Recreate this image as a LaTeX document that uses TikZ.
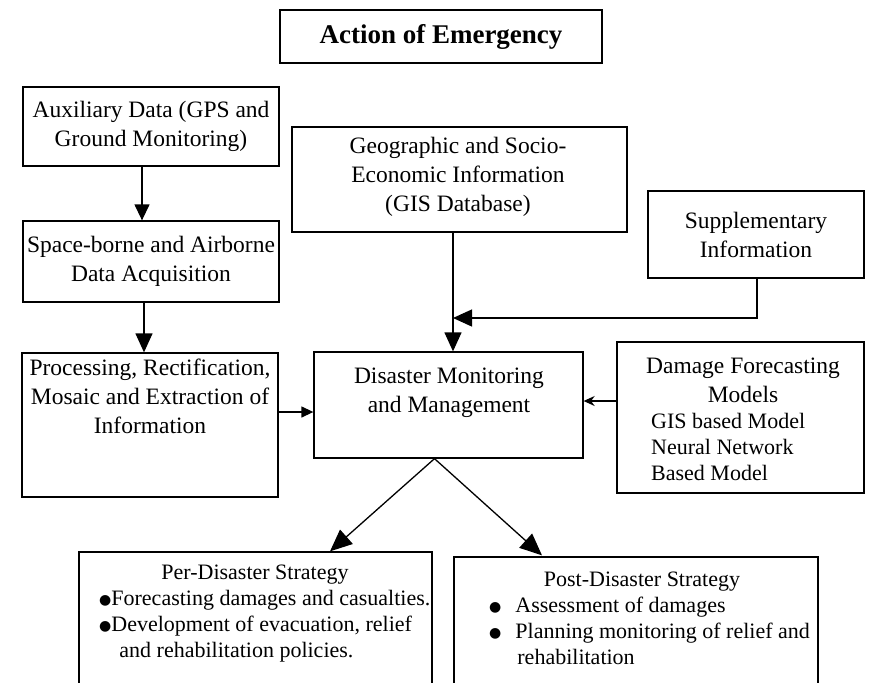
\documentclass[tikz,border=0pt]{standalone}
\usepackage{fontspec}
\setmainfont{Liberation Serif}
\newfontfamily\dejavu{DejaVu Sans}
\usetikzlibrary{arrows.meta}
\newcommand\bul{{\dejavu\fontsize{14}{14}\selectfont\raisebox{1.2pt}{●}}}
\begin{document}
\begin{tikzpicture}[x=1pt,y=-1pt,
  box/.style={draw,line width=1.3pt,inner sep=0pt},
  txt/.style={align=center,inner sep=0pt,font=\fontsize{23.5}{29}\selectfont},
  txtb/.style={inner sep=0pt,font=\fontsize{22}{26}\selectfont},
  arr/.style={line width=1.3pt,-{Triangle[length=19pt,width=17pt]}},
  arrmid/.style={line width=1.3pt,-{Triangle[length=16pt,width=15pt]}},
  arrbig/.style={line width=1.3pt,-{Triangle[length=22pt,width=19pt]}},
  arrsm/.style={line width=1.3pt,-{Triangle[length=12pt,width=11pt]}},
  arrst/.style={line width=1.3pt,-{Stealth[length=11pt,width=10pt]}}]
\useasboundingbox (0,0) rectangle (871,683);
\fill[white] (0,0) rectangle (871,683);
\clip (0,0) rectangle (871,683);

\node[box,txt,minimum width=322pt,minimum height=53pt,font=\fontsize{27}{30}\selectfont\bfseries] (title) at (441,36.5) {Action of Emergency};
\node[box,txt,minimum width=256pt,minimum height=79pt] (aux) at (151,126.5) {Auxiliary Data (GPS and\\Ground Monitoring)};
\node[box,txt,minimum width=256pt,minimum height=81pt] (space) at (151,261.5) {Space-borne and Airborne\\Data Acquisition};
\node[box,minimum width=335pt,minimum height=105pt] (geo) at (459.5,179.5) {};
\node[txt] (geot) at (458,176.5) {Geographic and Socio-\\Economic Information\\(GIS Database)};
\node[box,txt,minimum width=216pt,minimum height=87pt] (supp) at (756,234.5) {Supplementary\\Information};

\node[box,minimum width=256pt,minimum height=144pt] (proc) at (150,425) {};
\node[txt] (proct) at (150,396) {Processing, Rectification,\\Mosaic and Extraction of\\Information};

\node[box,minimum width=269pt,minimum height=106pt] (dmm) at (448.5,405) {};
\node[txt] (dmmt) at (449,392.5) {Disaster Monitoring\\and Management};

\node[box,minimum width=247pt,minimum height=151pt] (dmg) at (740.5,417.5) {};
\node[txt] (dmgt) at (743,380) {Damage Forecasting\\Models};
\node[txtb,align=left,anchor=west,font=\fontsize{22}{26}\selectfont] (dmgl) at (651,446.5) {GIS based Model\\Neural Network\\Based Model};

\node[box,minimum width=353pt,minimum height=148pt] (per) at (255.5,626) {};
\node[txtb] (pert) at (255,575) {Per-Disaster Strategy};
\node[txtb,anchor=west] (perl) at (99,626.5) {\begin{tabular}{@{}l@{\hspace{0pt}}l@{}}
\bul & Forecasting damages and casualties.\\
\bul & Development of evacuation, relief\\
 & \hspace{8pt}and rehabilitation policies.\end{tabular}};

\node[box,minimum width=364pt,minimum height=143pt] (post) at (636,628.5) {};
\node[txtb] (postt) at (642,581.5) {Post-Disaster Strategy};
\node[txtb,anchor=west] (postl) at (489,633.5) {\begin{tabular}{@{}l@{\hspace{14pt}}l@{}}
\bul & Assessment of damages\\
\bul & Planning monitoring of relief and\\
 & \hspace{2pt}rehabilitation\end{tabular}};

% connectors
\draw[arrmid] ([xshift=-9pt]aux.south) -- ([xshift=-9pt]space.north);
\draw[arr] ([xshift=-7pt]space.south) -- ([xshift=-6pt]proc.north);
\coordinate (gx) at ([xshift=-6.5pt]geo.south);
\draw[arr] (gx) -- (gx |- dmm.north);
\coordinate (join) at (453,318);
\draw[arr] ([xshift=1pt]supp.south) |- (join);
\draw[arrsm] ([yshift=13pt]proc.east) -- ([yshift=13pt]proc.east -| dmm.west);
\draw[arrst] ([yshift=16.5pt]dmg.west) -- ([yshift=16.5pt]dmg.west -| dmm.east);
\draw[arrbig] ([xshift=-14pt]dmm.south) -- ([xshift=74.5pt]per.north);
\draw[arrbig] ([xshift=-14pt]dmm.south) -- ([xshift=-94pt,yshift=1pt]post.north);
\end{tikzpicture}
\end{document}
